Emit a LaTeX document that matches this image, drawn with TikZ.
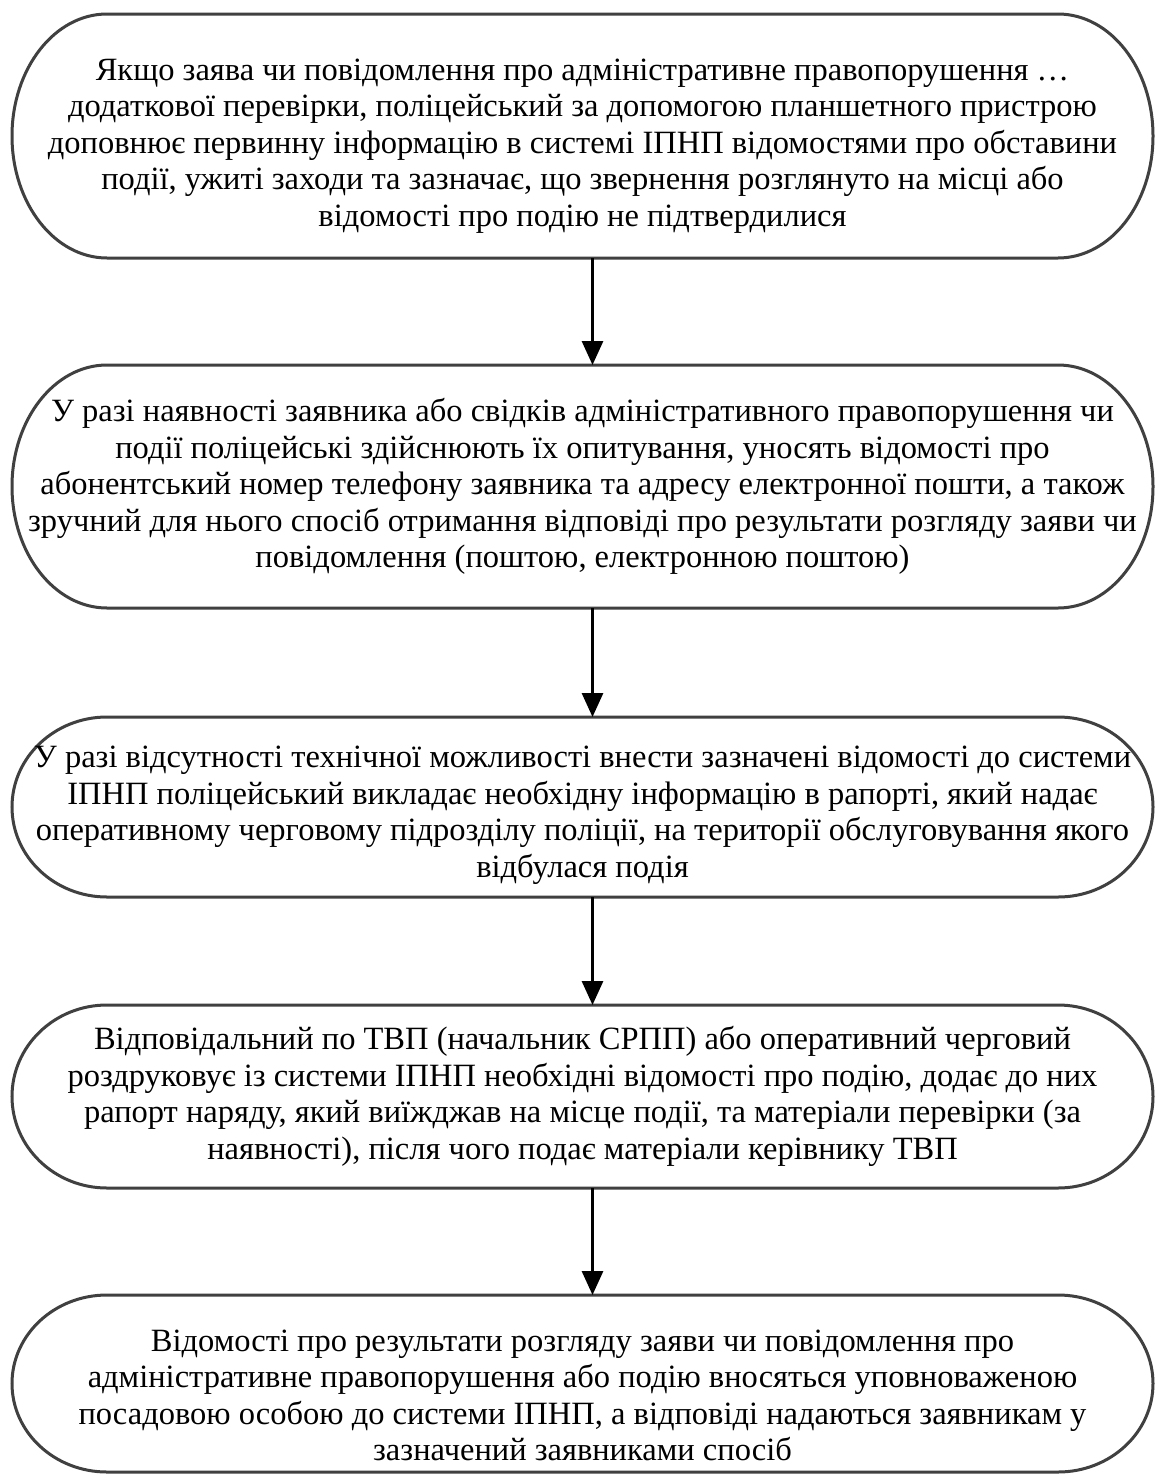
\documentclass[tikz,border=0pt]{standalone}
\usepackage{fontspec}
\setmainfont{Liberation Serif}
\usetikzlibrary{arrows.meta}
\begin{document}
\begin{tikzpicture}[x=1pt,y=1pt,
  termbox/.style={draw=none,inner sep=0pt,outer sep=0pt,minimum width=1141pt},
  outline/.style={draw=black!75,line width=3pt,fill=white},
  txt/.style={align=center,inner sep=0pt,font=\fontsize{32.5}{36.5}\selectfont},
  arr/.style={draw=black,line width=3pt,-{Triangle[length=24pt,width=21pt]}}]
\useasboundingbox (0,0) rectangle (1157,-1475);
\fill[white] (0,0) rectangle (1157,-1475);
% terminator: #1 name, #2 centre y, #3 height, #4 text shift, #5 text
\newcommand{\terminator}[5]{%
  \node[termbox,minimum height=#3pt] (#1) at (582.5,-#2) {};
  \draw[outline] ([xshift=95pt]#1.north west) -- ([xshift=-95pt]#1.north east)
    arc[start angle=90,end angle=-90,x radius=95pt,y radius=#3pt/2]
    -- ([xshift=95pt]#1.south west)
    arc[start angle=270,end angle=90,x radius=95pt,y radius=#3pt/2] -- cycle;
  \node[txt] (#1t) at ([yshift=-#4pt]#1.center) {#5};}
\terminator{b1}{136}{244}{10}{Якщо заява чи повідомлення про адміністративне правопорушення …\\
додаткової перевірки, поліцейський за допомогою планшетного пристрою\\
доповнює первинну інформацію в системі ІПНП відомостями про обставини\\
події, ужиті заходи та зазначає, що звернення розглянуто на місці або\\
відомості про подію не підтвердилися}
\terminator{b2}{486.5}{243}{0}{У разі наявності заявника або свідків адміністративного правопорушення чи\\
події поліцейські здійснюють їх опитування, уносять відомості про\\
абонентський номер телефону заявника та адресу електронної пошти, а також\\
зручний для нього спосіб отримання відповіді про результати розгляду заяви чи\\
повідомлення (поштою, електронною поштою)}
\terminator{b3}{807}{180}{8}{У разі відсутності технічної можливості внести зазначені відомості до системи\\
ІПНП поліцейський викладає необхідну інформацію в рапорті, який надає\\
оперативному черговому підрозділу поліції, на території обслуговування якого\\
відбулася подія}
\terminator{b4}{1096.5}{183}{0}{Відповідальний по ТВП (начальник СРПП) або оперативний черговий\\
роздруковує із системи ІПНП необхідні відомості про подію, додає до них\\
рапорт наряду, який виїжджав на місце події, та матеріали перевірки (за\\
наявності), після чого подає матеріали керівнику ТВП}
\terminator{b5}{1383.5}{177}{12}{Відомості про результати розгляду заяви чи повідомлення про\\
адміністративне правопорушення або подію вносяться уповноваженою\\
посадовою особою до системи ІПНП, а відповіді надаються заявникам у\\
зазначений заявниками спосіб}
% connectors, slightly right of the box centres
\draw[arr] ([xshift=10pt]b1.south) -- ([xshift=10pt]b2.north);
\draw[arr] ([xshift=10pt]b2.south) -- ([xshift=10pt]b3.north);
\draw[arr] ([xshift=10pt]b3.south) -- ([xshift=10pt]b4.north);
\draw[arr] ([xshift=10pt]b4.south) -- ([xshift=10pt]b5.north);
\end{tikzpicture}
\end{document}
